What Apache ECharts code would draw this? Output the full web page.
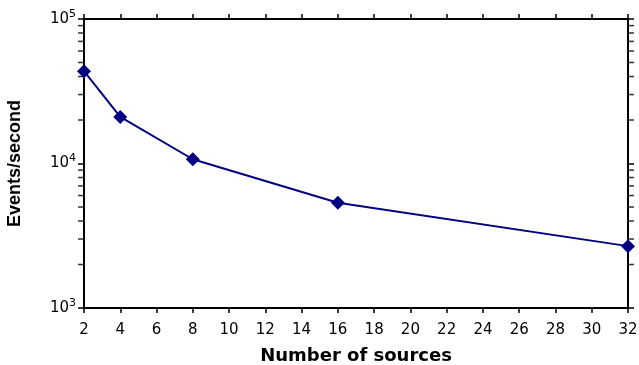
<!DOCTYPE html>
<html><head><meta charset="utf-8">
<script src="https://cdn.jsdelivr.net/npm/echarts@6/dist/echarts.min.js"></script>
<style>html,body{margin:0;padding:0;background:#fff}#c{width:639px;height:365px}</style>
</head><body><div id="c"></div>
<script>
const sources = [2, 4, 8, 16, 32];
const eventsPerSecond = [43500, 21000, 10700, 5350, 2680];
const minorTickValues = [2000,3000,4000,5000,6000,7000,8000,9000,20000,30000,40000,50000,60000,70000,80000,90000];
const xTitle = 'Number of sources';
const yTitle = 'Events/second';

const font = 'DejaVu Sans, sans-serif';
const chart = echarts.init(document.getElementById('c'));
const axisLine = {show: true, lineStyle: {color: '#000', width: 2}};
const yLabel = {
  fontFamily: font, fontSize: 15, color: '#000', margin: 8,
  formatter: v => '10{s|' + Math.round(Math.log10(v)) + '}',
  rich: {s: {fontSize: 11, verticalAlign: 'top', padding: [0,0,10,0], fontFamily: font, color:'#000'}}
};
chart.setOption({
  animation: false,
  grid: {left: 84, right: 11, top: 19, bottom: 57, containLabel: false, outerBoundsMode: 'none'},
  xAxis: [{
    type: 'value', min: 2, max: 32, interval: 2, position: 'bottom',
    axisLine, axisTick: {show: true, length: 5, lineStyle: {color: '#000', width: 1.5}},
    splitLine: {show: false},
    axisLabel: {fontFamily: font, fontSize: 15, color: '#000', margin: 15},
    name: xTitle, nameLocation: 'middle', nameGap: 39,
    nameTextStyle: {fontFamily: 'DejaVu Sans, sans-serif', fontSize: 18, fontWeight: 'bold', color: '#000'}
  }, {
    type: 'value', min: 2, max: 32, interval: 2, position: 'top',
    axisLine, axisTick: {show: true, length: 5, lineStyle: {color: '#000', width: 1.5}},
    splitLine: {show: false}, axisLabel: {show: false}
  }],
  yAxis: [{
    type: 'log', logBase: 10, min: 1000, max: 100000, position: 'left',
    axisLine, axisTick: {show: true, length: 6, lineStyle: {color: '#000', width: 1.5}},
    splitLine: {show: false}, axisLabel: yLabel,
    name: yTitle, nameLocation: 'middle', nameGap: 60,
    nameTextStyle: {fontFamily: 'Liberation Sans, Arial, sans-serif', fontSize: 18, fontWeight: 'bold', color: '#000'}
  }, {
    type: 'log', logBase: 10, min: 1000, max: 100000, position: 'right',
    axisLine, axisTick: {show: true, length: 6, lineStyle: {color: '#000', width: 1.5}},
    splitLine: {show: false}, axisLabel: {show: false}
  }],
  series: [{
    type: 'custom', xAxisIndex: 0, yAxisIndex: 0, silent: true, clip: false, z: 1,
    data: minorTickValues.map(v => [2, v]),
    renderItem: (params, api) => {
      const l = api.coord([2, api.value(1)]);
      const r = api.coord([32, api.value(1)]);
      const st = {stroke: '#333', lineWidth: 1.5};
      return {type: 'group', children: [
        {type: 'line', shape: {x1: l[0] - 6, y1: l[1], x2: l[0] - 1, y2: l[1]}, style: st},
        {type: 'line', shape: {x1: r[0] + 1, y1: r[1], x2: r[0] + 6, y2: r[1]}, style: st}
      ]};
    }
  }, {
    type: 'line', data: sources.map((x, i) => [x, eventsPerSecond[i]]),
    xAxisIndex: 0, yAxisIndex: 0,
    lineStyle: {color: '#000080', width: 2},
    itemStyle: {color: '#000080'},
    symbol: 'diamond', symbolSize: 14, z: 5
  }]
});
</script></body></html>
